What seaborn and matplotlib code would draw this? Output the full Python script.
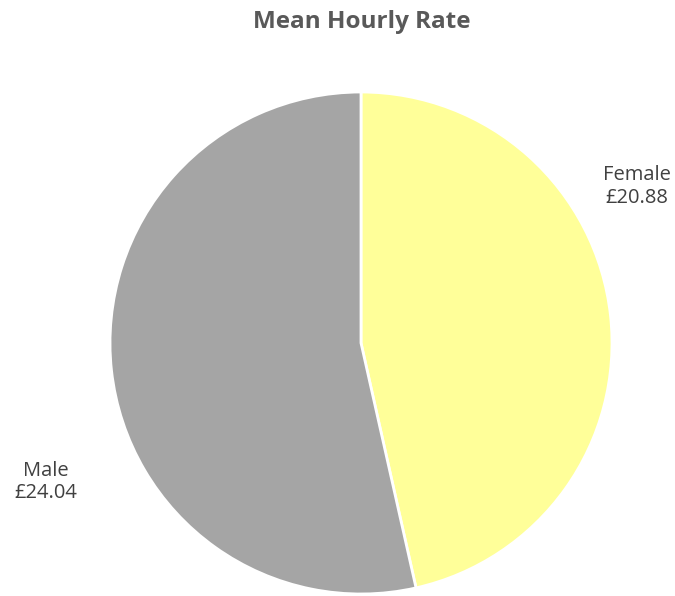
import matplotlib
matplotlib.use('Agg')
import matplotlib.pyplot as plt
import seaborn as sns

# Data
genders = ['Female', 'Male']
rates = [20.88, 24.04]
colors = ['#FFFF99', '#A5A5A5']

sns.set_theme(style='white')
plt.rcParams['font.family'] = ['Open Sans', 'DejaVu Sans']

W, H = 675, 596
fig = plt.figure(figsize=(W / 100, H / 100), dpi=100)

# pie centre / radius in pixels
cx, cy, r = 361, 343, 251
ax = fig.add_axes([(cx - r) / W, (H - cy - r) / H, 2 * r / W, 2 * r / H])
ax.pie(rates, colors=colors, startangle=90, counterclock=False, radius=1,
       wedgeprops={'edgecolor': 'white', 'linewidth': 2})
ax.set_xlim(-1, 1)
ax.set_ylim(-1, 1)
ax.set_aspect('equal')
ax.axis('off')

fig.text(362 / W, 1 - 22 / H, 'Mean Hourly Rate', ha='center', va='center',
         fontsize=17.5, fontweight='bold', color='#595959')

label_pos = {'Female': (637, 186), 'Male': (46, 482)}
for g, v in zip(genders, rates):
    x, y = label_pos[g]
    fig.text(x / W, 1 - y / H, f'{g}\n£{v:.2f}', ha='center', va='center',
             fontsize=14.5, color='#404040', linespacing=1.2)

fig.savefig('out.png', dpi=100)
